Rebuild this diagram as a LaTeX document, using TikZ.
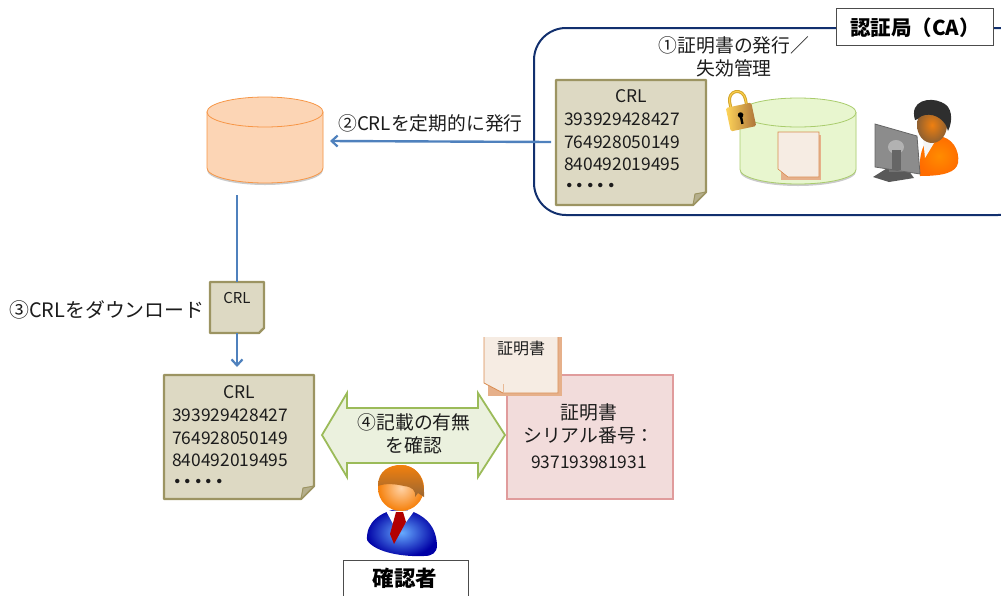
\documentclass[tikz,border=0pt]{standalone}
\usepackage{fontspec}
\setmainfont{Noto Sans CJK JP}
\usetikzlibrary{arrows.meta}
\definecolor{ink}{HTML}{1C1C1C}
\definecolor{navy}{HTML}{12306E}
\definecolor{flow}{HTML}{4F81BD}
\definecolor{notefill}{HTML}{DDD9C3}
\definecolor{noteedge}{HTML}{9C9462}
\definecolor{notefold}{HTML}{B5AF8C}
\definecolor{docfill}{HTML}{F6ECE3}
\definecolor{docedge}{HTML}{D98B4F}
\definecolor{docshade}{HTML}{E6B08A}
\definecolor{orangefill}{HTML}{FCD5B5}
\definecolor{orangeedge}{HTML}{F79646}
\definecolor{greenfill}{HTML}{E8F6CF}
\definecolor{greenedge}{HTML}{A9CC6C}
\definecolor{certfill}{HTML}{F2DCDB}
\definecolor{certedge}{HTML}{E09C9C}
\definecolor{arrowfill}{HTML}{EBF1DE}
\definecolor{arrowedge}{HTML}{9BBB59}
\newcommand{\numfont}{\fontsize{17.4}{22.7}\selectfont}
\tikzset{
  x=1pt,y=-1pt,
  every node/.style={text=ink,font=\fontsize{18.8}{22.7}\selectfont,inner sep=0pt},
  label text/.style={align=center},
  flowline/.style={draw=flow,line width=2.4pt},
  flowarrow/.style={flowline,-{Straight Barb[length=6pt,width=11pt,line width=2.2pt]}},
  titlebox/.style={draw=black!70,fill=white,line width=1pt},
  titletext/.style={font=\fontsize{20.5}{24}\selectfont\bfseries,text=black},
  area/.style={draw=navy,line width=2pt,rounded corners=32pt},
  anchorbox/.style={minimum width=0pt,minimum height=0pt,draw=none,fill=none},
  notepaper/.style={fill=notefill,draw=noteedge,line width=2.2pt,line join=round},
  numbers/.style={align=left,anchor=north west,text width=#1},
  smalltext/.style={font=\fontsize{16}{18}\selectfont},
}
% \notebox{name}{x1}{y1}{x2}{y2}{fold}
\newcommand{\notebox}[6]{%
  \fill[notepaper] (#2,#3) -- (#4,#3) -- (#4,#5-#6) -- (#4-#6,#5) -- (#2,#5) -- cycle;
  \fill[notefold,draw=noteedge,line width=1pt,line join=round] (#4,#5-#6) -- (#4-#6,#5) -- (#4-#6+2,#5-#6+2) -- cycle;
  \node[anchorbox,minimum width=#4pt-#2pt,minimum height=#5pt-#3pt] (#1) at ({(#2+#4)/2},{(#3+#5)/2}) {};
}
\newcommand{\crlbody}{\numfont\makebox[134pt]{CRL}\\393929428427\\764928050149\\840492019495\\{\bfseries\fontsize{21}{22.7}\selectfont ･････}}
% \drum{name}{x1}{ytop}{x2}{ybottom}{ry}{fill}{edge}
\newcommand{\drum}[8]{%
  \fill[black!45,opacity=.45] (#2,#3+#6) -- (#4,#3+#6) -- (#4,#5-#6+2) arc[start angle=0,end angle=180,x radius={(#4-#2)/2},y radius=#6] -- cycle;
  \filldraw[fill=#7,draw=#8,line width=.8pt] (#2,#3+#6) -- (#2,#5-#6) arc[start angle=180,end angle=0,x radius={(#4-#2)/2},y radius=#6] -- (#4,#3+#6) -- cycle;
  \filldraw[fill=#7,draw=#8,line width=.8pt] ({(#2+#4)/2},{#3+#6}) ellipse[x radius={(#4-#2)/2},y radius=#6];
  \node[anchorbox,minimum width=#4pt-#2pt,minimum height=#5pt-#3pt] (#1) at ({(#2+#4)/2},{(#3+#5)/2}) {};
}
\begin{document}
\begin{tikzpicture}
\useasboundingbox (0,0) rectangle (1001,595);
\begin{scope}
\clip (0,0) rectangle (1001,595);

% certificate authority area
\draw[area] (534,28) rectangle (1030,215);
\node[titlebox,minimum width=157pt,minimum height=37pt] (catitle) at (914.5,26.5) {};
\node[titletext] (catitlelabel) at (915,27.5) {認証局（CA）};
\node[label text] (step1) at (734,57) {①証明書の発行／\\失効管理};

% CRL note in CA
\notebox{crlca}{556}{80}{706}{205}{13}
\node[numbers=134pt] (crlcatext) at (564,89.5) {\crlbody};

% green store
\drum{store}{740}{98}{856}{184}{14.5}{greenfill}{greenedge}
\fill[docshade] (781,135) rectangle (821,180);
\filldraw[fill=docfill,draw=docedge,line width=.6pt] (778,132) -- (819,132) -- (819,177) -- (788,177) -- (778,169) -- cycle;
\node[anchorbox,minimum width=42pt,minimum height=47pt] (storedoc) at (799,155) {};

% padlock
\begin{scope}[rotate around={12:(741,117)}]
  \draw[line width=3pt,draw=brown!70!yellow] (733,108) -- (733,100) arc[start angle=180,end angle=0,x radius=8,y radius=-9] -- (749,108);
  \draw[line width=1pt,draw=yellow!50!orange!70] (733,108) -- (733,100) arc[start angle=180,end angle=0,x radius=8,y radius=-9] -- (749,108);
  \shade[left color=yellow!50!orange!65,right color=brown!90!black,rounded corners=1.5pt] (728,105) rectangle (754,129);
  \fill[black] (741,115) circle[radius=2.8];
  \fill[black] (739.8,115) rectangle (742.2,124);
\end{scope}

% operator at terminal
\shade[inner color=orange!90!yellow,outer color=orange!85!red] (920,176) .. controls (918,148) and (926,137) .. (938,136) .. controls (952,137) and (960,150) .. (958,163) .. controls (956,172) and (945,176) .. (920,176) -- cycle;
\fill[white!92!gray] (923,138) -- (937,138) -- (925,158) -- cycle;
\shade[inner color=orange!75!brown,outer color=brown!75!black] (932,125) ellipse[x radius=15,y radius=18];
\fill[black!82] (915,120) .. controls (909,100) and (930,97) .. (941,102) .. controls (953,106) and (953,121) .. (948,131) .. controls (946,121) and (936,113) .. (925,115) .. controls (919,116) and (918,120) .. (915,120) -- cycle;
\fill[black!65] (889,167) -- (906,167) -- (914,178) -- (889,182) -- (873,177) -- cycle;
\fill[black!55] (889,152) rectangle (904,172);
\filldraw[fill=black!45,draw=black!60,line width=.8pt] (875,124) -- (917,136) -- (920,174) -- (875,167) -- cycle;
\fill[black!30] (896,147) ellipse[x radius=8,y radius=7];
\fill[black!60] (892,150) rectangle (901,170);

% repository
\drum{repo}{207}{97}{323}{183}{15}{orangefill}{orangeedge}

% step 2
\coordinate (repoin) at (330,141);
\coordinate (crlcaout) at (551,142);
\draw[flowarrow] (crlcaout) -- (repoin);
\node[anchor=west] (step2) at (338,123) {②CRLを定期的に発行};

% CRL in transit and step 3
\coordinate (repoout) at (237,195);
\coordinate (checkin) at (237,367);
\notebox{crlmove}{210}{282}{264}{333}{5}
\node[font=\fontsize{15}{18}\selectfont] (crlmovetext) at (237,298) {CRL};
\draw[flowline] (repoout) -- (crlmove.north);
\draw[flowarrow] (crlmove.south) -- (checkin);
\node[anchor=west,font=\fontsize{19.9}{24}\selectfont] (step3) at (9,310) {③CRLをダウンロード};

% CRL at checker
\notebox{crlcheck}{164}{375}{314}{499}{13}
\node[numbers=134pt] (crlchecktext) at (172,385.5) {\crlbody};

% certificate
\filldraw[fill=certfill,draw=certedge,line width=1.8pt] (507,375) rectangle (673,499);
\node[anchorbox,minimum width=166pt,minimum height=124pt] (cert) at (590,437) {};
\node[label text] (certtext) at (589,436) {証明書\\シリアル番号：\\[3pt]{\numfont 937193981931}};
\begin{scope}
  \clip (470,337) rectangle (570,400);
  \fill[docshade] (488,325) rectangle (562,396);
  \filldraw[fill=docfill,draw=docedge,line width=.8pt] (484,325) -- (558,325) -- (558,393) -- (503,393) -- (484,383) -- cycle;
  \draw[docedge!60,line width=.5pt] (503,393) -- (503,384);
\end{scope}
\node[anchorbox,minimum width=74pt,minimum height=56pt] (certdoc) at (521,365) {};
\node[smalltext] (certdoctext) at (521,348) {証明書};

% step 4 double arrow
\filldraw[fill=arrowfill,draw=arrowedge,line width=1.8pt,line join=miter]
  (322,435) -- (347,393) -- (347,408) -- (478,408) -- (478,393) -- (505,435)
  -- (478,477) -- (478,463) -- (347,463) -- (347,477) -- cycle;
\node[label text] (step4) at (414,434) {④記載の有無\\を確認};

% checker
\shade[inner color=blue!55!cyan!60!white,outer color=blue!65!black] (367,540) .. controls (366,522) and (380,512) .. (400,508) .. controls (420,512) and (436,522) .. (437,545) .. controls (437,553) and (432,556) .. (424,556) .. controls (405,557) and (375,553) .. (367,540) -- cycle;
\fill[white] (386,511) -- (415,510) -- (398,533) -- cycle;
\fill[red!70!black] (396,512) -- (403,512) -- (406,522) -- (394,544) -- (390,534) -- cycle;
\shade[inner color=orange!35!white,outer color=orange!85!brown] (401,488) circle[radius=23];
\shade[top color=orange!80!brown,bottom color=brown!80!black] (378,486) .. controls (378,470) and (390,465) .. (401,465) .. controls (415,465) and (425,476) .. (424,497) -- (418,493) -- (415,497) .. controls (416,490) and (412,487) .. (404,486) .. controls (395,484) and (386,483) .. (378,486) -- cycle;
\node[titlebox,minimum width=125pt,minimum height=40pt] (checktitle) at (405.5,580) {};
\node[titletext,font=\fontsize{21.5}{24}\selectfont\bfseries] (checklabel) at (405,578) {確認者};
\end{scope}
\end{tikzpicture}
\end{document}
